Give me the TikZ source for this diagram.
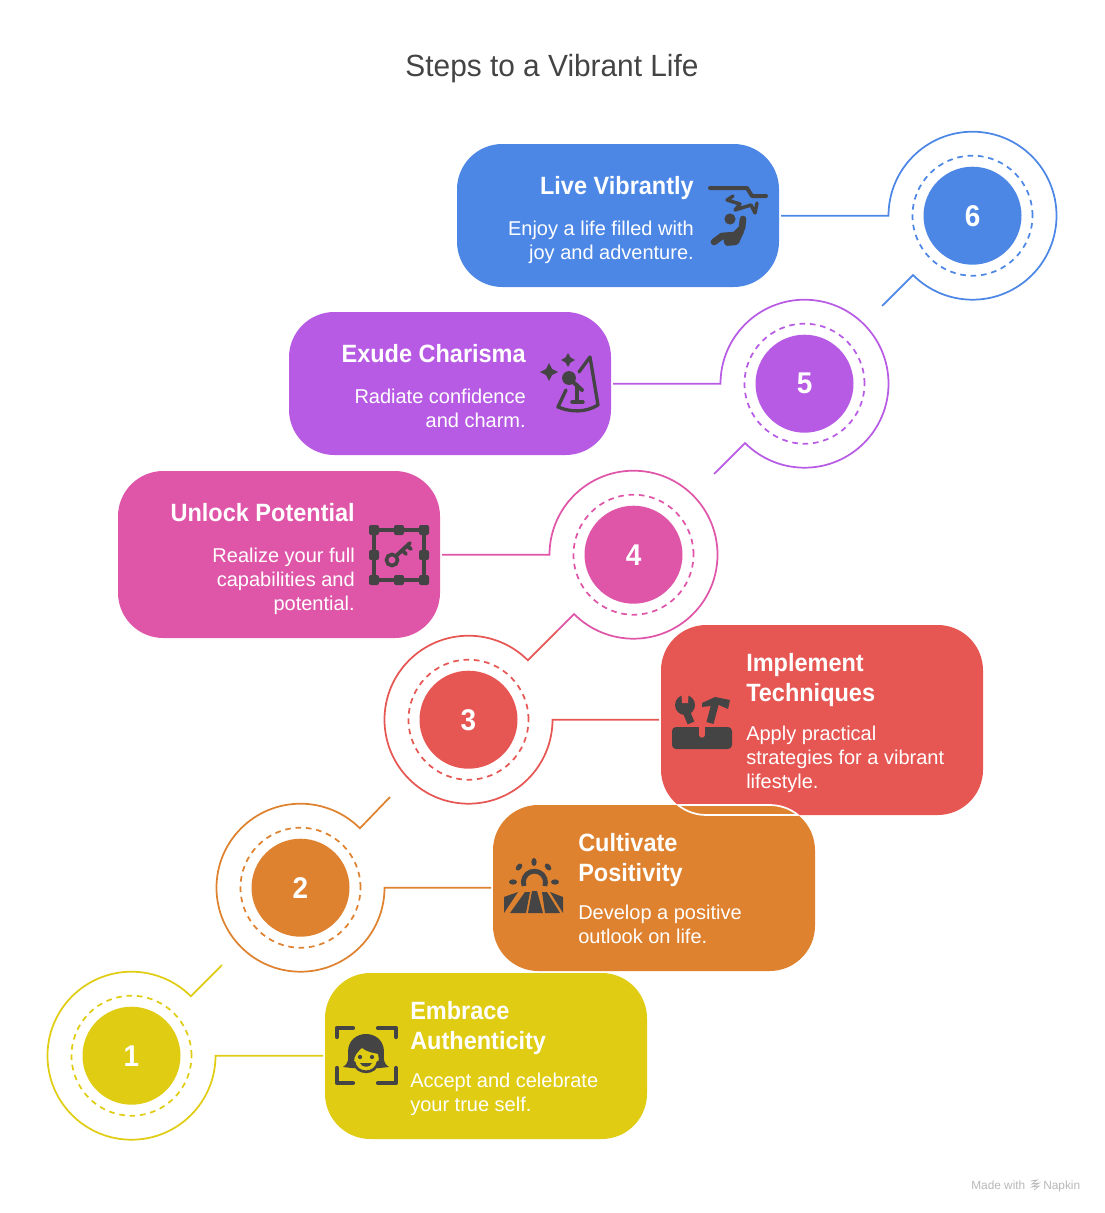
\documentclass[tikz,border=0pt]{standalone}
\usepackage{fontspec}
\setmainfont{Liberation Sans}
\newfontfamily\headfont[FakeStretch=0.94]{Liberation Sans}
\newfontfamily\digitfont[FakeStretch=0.93]{Liberation Sans}
\newfontfamily\mainhead[FakeStretch=0.973]{Liberation Sans}
\usepackage{xcolor}
\usetikzlibrary{positioning,calc}
\definecolor{stepyellow}{HTML}{E0CC13}
\definecolor{steporange}{HTML}{DE8230}
\definecolor{stepred}{HTML}{E65753}
\definecolor{steppink}{HTML}{DF56A9}
\definecolor{steppurple}{HTML}{B85BE4}
\definecolor{stepblue}{HTML}{4C87E6}
\definecolor{icondark}{HTML}{444444}

\begin{document}
\begin{tikzpicture}[
  x=0.75pt, y=-0.75pt,
  card/.style={rounded corners=34pt, minimum width=241.5pt, inner sep=0pt, outer sep=0pt},
  ctitle/.style={font=\headfont\bfseries\fontsize{18.75}{22.5}\selectfont, text=white, inner sep=0pt},
  cbody/.style={font=\fontsize{15}{18}\selectfont, text=white, inner sep=0pt},
  badge/.style={circle, minimum size=73.5pt, inner sep=0pt, text=white, font=\digitfont\bfseries\fontsize{22.5}{24}\selectfont},
  dashring/.style={circle, minimum size=90pt, inner sep=0pt, line width=1.3pt, dash pattern=on 4.2pt off 3.6pt},
  ring/.style={circle, minimum size=126pt, inner sep=0pt, outer sep=0pt},
  link/.style={line width=1.3pt, shorten <=1.5pt},
  seam/.style={draw=white, line width=1.3pt, rounded corners=34pt},
  icon/.style={draw=icondark, line cap=round, line join=round},
  iconfill/.style={fill=icondark, draw=none},
  footer/.style={font=\fontsize{8.9}{10}\selectfont, text=black!28, inner sep=0pt, anchor=base west}
]
\useasboundingbox (0,0) rectangle (1104,1213);
\node[font=\mainhead\fontsize{23}{28}\selectfont, text=icondark, inner sep=0pt, anchor=base] (title) at (552,76) {Steps to a Vibrant Life};

% cards
\node[card, fill=stepblue, minimum height=107.25pt, anchor=north west] (card6) at (457,144) {};
\node[card, fill=steppurple, minimum height=107.25pt, anchor=north west] (card5) at (289,312) {};
\node[card, fill=steppink, minimum height=125.25pt, anchor=north west] (card4) at (118,471) {};
\node[card, fill=stepred, minimum height=142.5pt, anchor=north west] (card3) at (661,625) {};
\node[card, fill=steporange, minimum height=124.5pt, anchor=north west] (card2) at (493,805) {};
\node[card, fill=stepyellow, minimum height=124.5pt, anchor=north west] (card1) at (325,973) {};
\begin{scope}
  \clip[rounded corners=34pt] (card2.south west) rectangle (card2.north east);
  \draw[seam] (card3.south west) rectangle (card3.north east);
\end{scope}
\begin{scope}
  \clip[rounded corners=34pt] (card3.south west) rectangle (card3.north east);
  \draw[seam] (card2.south west) rectangle (card2.north east);
\end{scope}

% badges
\node[ring] (ring6) at (972.5,215.7) {};
\node[ring] (ring5) at (804.5,383.7) {};
\node[ring] (ring4) at (633.5,554.7) {};
\node[ring] (ring3) at (468.5,719.7) {};
\node[ring] (ring2) at (300.5,887.7) {};
\node[ring] (ring1) at (131.5,1055.7) {};
\node[dashring, draw=stepblue] (dash6) at (ring6) {};
\node[dashring, draw=steppurple] (dash5) at (ring5) {};
\node[dashring, draw=steppink] (dash4) at (ring4) {};
\node[dashring, draw=stepred] (dash3) at (ring3) {};
\node[dashring, draw=steporange] (dash2) at (ring2) {};
\node[dashring, draw=stepyellow] (dash1) at (ring1) {};
\node[badge, fill=stepblue] (badge6) at (ring6) {6};
\node[badge, fill=steppurple] (badge5) at (ring5) {5};
\node[badge, fill=steppink] (badge4) at (ring4) {4};
\node[badge, fill=stepred] (badge3) at (ring3) {3};
\node[badge, fill=steporange] (badge2) at (ring2) {2};
\node[badge, fill=stepyellow] (badge1) at (ring1) {1};

% connectors
\coordinate (tail6) at (882,306);
\coordinate (tail5) at (714,474);
\coordinate (tail4) at (558,630);
\coordinate (tail2) at (390,797);
\coordinate (tail1) at (222,965);
\draw[link, stepblue] (card6.east |- ring6.west) -- (ring6.west) arc[start angle=180, end angle=-135, radius=63pt] -- (tail6);
\draw[link, steppurple] (card5.east |- ring5.west) -- (ring5.west) arc[start angle=180, end angle=-135, radius=63pt] -- (tail5);
\draw[link, steppink] (card4.east |- ring4.west) -- (ring4.west) arc[start angle=180, end angle=-135, radius=63pt] -- (tail4);
\draw[link, stepred] (card3.west |- ring3.east) -- (ring3.east) arc[start angle=0, end angle=-315, radius=63pt] -- (tail4);
\draw[link, steporange] (card2.west |- ring2.east) -- (ring2.east) arc[start angle=0, end angle=-315, radius=63pt] -- (tail2);
\draw[link, stepyellow] (card1.west |- ring1.east) -- (ring1.east) arc[start angle=0, end angle=-315, radius=63pt] -- (tail1);

% texts
\node[ctitle, anchor=base east] (title6) at (694,194) {Live Vibrantly};
\node[cbody, align=right, anchor=base east] (body6) at (694,259) {Enjoy a life filled with\\joy and adventure.};
\node[ctitle, anchor=base east] (title5) at (526,362) {Exude Charisma};
\node[cbody, align=right, anchor=base east] (body5) at (526,427) {Radiate confidence\\and charm.};
\node[ctitle, anchor=base east] (title4) at (355,521) {Unlock Potential};
\node[cbody, align=right, anchor=base east] (body4) at (355,610) {Realize your full\\capabilities and\\potential.};
\node[ctitle, align=left, anchor=base west] (title3) at (746,701) {Implement\\Techniques};
\node[cbody, align=left, anchor=base west] (body3) at (746,788) {Apply practical\\strategies for a vibrant\\lifestyle.};
\node[ctitle, align=left, anchor=base west] (title2) at (578,881) {Cultivate\\Positivity};
\node[cbody, align=left, anchor=base west] (body2) at (578,943) {Develop a positive\\outlook on life.};
\node[ctitle, align=left, anchor=base west] (title1) at (410,1049) {Embrace\\Authenticity};
\node[cbody, align=left, anchor=base west] (body1) at (410,1111) {Accept and celebrate\\your true self.};

% icon 6
\draw[icon, line width=3pt] (710,188) -- (747,188) -- (752,196) -- (766,196);
\draw[icon, line width=2.6pt] (733,196) -- (727,200) -- (740,204) -- (735,210) -- (751,205) -- (755,213) -- (757,203);
\fill[iconfill] (730,219) circle (4.2pt);
\draw[icon, line width=5pt] (743,219) -- (742,228) -- (735,235) -- (722,236) -- (714,242);
\fill[iconfill, rounded corners=1.5pt] (722,234) -- (745,230) -- (738,245) -- (725,246) -- cycle;

% icon 5
\fill[iconfill] (549,363) -- (552,369) -- (558,372) -- (552,375) -- (549,381) -- (546,375) -- (540,372) -- (546,369) -- cycle;
\fill[iconfill] (568,353) -- (570.5,357.5) -- (575,360) -- (570.5,362.5) -- (568,367) -- (565.5,362.5) -- (561,360) -- (565.5,357.5) -- cycle;
\draw[icon, line width=2.5pt] (579,372) -- (590,357) -- (598,405) .. controls (585,413) and (570,412) .. (558,407) -- (566,390);
\fill[iconfill] (569,378) circle (5.2pt);
\draw[icon, line width=3pt] (573,382) -- (582,390);
\draw[icon, line width=2.6pt] (577,385) -- (577,402) (572,402) -- (583,402);

% icon 4
\draw[draw=icondark, line width=2.8pt] (374,530) rectangle (424,580);
\fill[iconfill, rounded corners=1.5pt] (369,525) rectangle +(10,10) (394,525) rectangle +(10,10) (419,525) rectangle +(10,10)
  (369,550) rectangle +(10,10) (419,550) rectangle +(10,10)
  (369,575) rectangle +(10,10) (394,575) rectangle +(10,10) (419,575) rectangle +(10,10);
\draw[icon, line width=2.7pt] (392,560) circle (4.2pt);
\draw[icon, line width=2.9pt] (396,556) -- (410,543) (402,550) -- (406,554) (407,546) -- (411,549);

% icon 3
\fill[iconfill, rounded corners=3pt] (672,727) rectangle (732,749);
\draw[stepred, line width=4pt, line cap=round] (702,724) -- (702,735);
\fill[iconfill] (685,705) circle (7.5pt);
\fill[stepred] (681.5,695) -- (688.5,695) -- (688,703) -- (682,703) -- cycle;
\draw[icon, line width=5.5pt, line cap=butt] (686,711) -- (691,723);
\fill[iconfill] (702,703) -- (715,697) -- (730,700) -- (728,709) -- (719,705) -- (702,707) -- cycle;
\draw[icon, line width=5.5pt, line cap=butt] (715,704) -- (710,723);

% icon 2
\draw[icon, line width=3.6pt, line cap=butt] (524,886) arc[start angle=200, end angle=-20, radius=8.3pt];
\fill[iconfill] (513,882) ellipse (3pt and 2pt);
\fill[iconfill, rotate around={50:(519,867)}] (519,867) ellipse (3pt and 2pt);
\fill[iconfill] (534,862) ellipse (2pt and 3pt);
\fill[iconfill, rotate around={-50:(548,867)}] (548,867) ellipse (3pt and 2pt);
\fill[iconfill] (555,882) ellipse (3pt and 2pt);
\fill[iconfill] (504,897) -- (518,892) -- (504,913) -- cycle;
\fill[iconfill] (525,892) -- (530,892) -- (526,913) -- (510,913) -- cycle;
\fill[iconfill] (532,891) -- (537,891) -- (543,913) -- (528,913) -- cycle;
\fill[iconfill] (542,892) -- (547,892) -- (560,913) -- (545,913) -- cycle;
\fill[iconfill] (550,892) -- (563,897) -- (563,913) -- cycle;

% icon 1
\draw[icon, line width=3.2pt] (337,1037) -- (337,1028) -- (353,1028) (378,1028) -- (396,1028) -- (396,1037)
  (337,1068) -- (337,1083) -- (353,1083) (378,1083) -- (396,1083) -- (396,1068);
\fill[iconfill] (343,1067) .. controls (350,1062) and (348,1058) .. (348,1052) .. controls (348,1028) and (384,1028) .. (384,1052) .. controls (384,1058) and (382,1062) .. (389,1067) -- (380,1068) -- (352,1068) -- cycle;
\fill[stepyellow] (354,1062) .. controls (354,1055) and (358,1052) .. (362,1048) .. controls (368,1053) and (375,1053) .. (378,1054) .. controls (380,1060) and (378,1068) .. (373,1070) -- (359,1070) .. controls (356,1068) and (354,1066) .. (354,1062) -- cycle;
\draw[icon, line width=2pt] (354,1062) .. controls (356,1075) and (376,1075) .. (378,1062);
\fill[iconfill] (360,1057) circle (1.6pt) (372,1057) circle (1.6pt);
\fill[iconfill] (360,1063) .. controls (362,1068) and (370,1068) .. (372,1063) -- cycle;

% footer
\node[footer] (made) at (971,1189) {Made with};
\node[footer] (napkin) at (1043,1189) {Napkin};
\draw[black!28, line width=0.6pt] (1031,1181) -- (1037,1180) -- (1032,1184) -- (1039,1183) -- (1032,1187) -- (1039,1186) -- (1034,1190);
\end{tikzpicture}
\end{document}
